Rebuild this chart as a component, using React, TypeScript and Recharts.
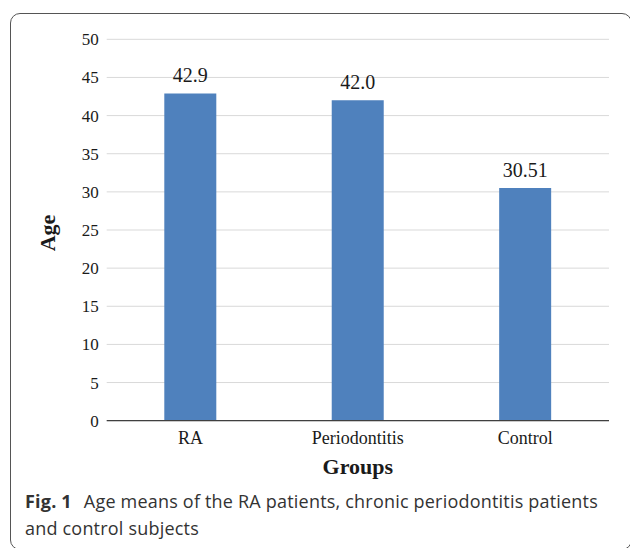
import React from 'react';
import { BarChart, Bar, XAxis, YAxis, CartesianGrid, LabelList, Label } from 'recharts';

const groups = ['RA', 'Periodontitis', 'Control'];
const ageMeans = [42.9, 42.0, 30.51];
const valueLabels = ['42.9', '42.0', '30.51'];
const yTicks = [0, 5, 10, 15, 20, 25, 30, 35, 40, 45, 50];

const data = groups.map((g, i) => ({ group: g, age: ageMeans[i], label: valueLabels[i] }));

const serif = '"Liberation Serif", "Times New Roman", serif';

export default function App() {
  return (
    <div style={{ position: 'absolute', left: 0, top: 0, width: 630, height: 548, background: '#fff', overflow: 'hidden' }}>
      <div
        style={{
          position: 'absolute',
          left: 9.5,
          top: 12.5,
          width: 622,
          height: 537,
          boxSizing: 'border-box',
          border: '1.5px solid #555',
          borderRadius: 10,
        }}
      />
      <div style={{ position: 'absolute', left: 0, top: 0 }}>
        <BarChart
          width={630}
          height={548}
          data={data}
          margin={{ top: 39.3, right: 21, bottom: 51.3, left: 0 }}
          barCategoryGap="34.4%"
        >
          <CartesianGrid vertical={false} stroke="#d9d9d9" strokeWidth={1} />
          <XAxis
            dataKey="group"
            height={76}
            tickLine={false}
            tickSize={0}
            tickMargin={11}
            axisLine={{ stroke: '#404040', strokeWidth: 1.2 }}
            tick={{ fontFamily: serif, fontSize: 18, fill: '#1a1a1a' }}
          >
            <Label value="Groups" position="center" dy={7} style={{ fontFamily: serif, fontSize: 22, fontWeight: 'bold', fill: '#1a1a1a' }} />
          </XAxis>
          <YAxis
            width={106.7}
            domain={[0, 50]}
            ticks={yTicks}
            interval={0}
            axisLine={false}
            tickLine={false}
            tickSize={0}
            tickMargin={8}
            tick={{ fontFamily: serif, fontSize: 17, fill: '#1a1a1a' }}
          >
            <Label value="Age" angle={-90} position="center" dx={-6} dy={3} style={{ fontFamily: serif, fontSize: 22, fontWeight: 'bold', fill: '#1a1a1a' }} />
          </YAxis>
          <Bar dataKey="age" fill="#4f81bd" isAnimationActive={false}>
            <LabelList dataKey="label" position="top" offset={11} style={{ fontFamily: serif, fontSize: 20, fill: '#1a1a1a' }} />
          </Bar>
        </BarChart>
      </div>
      <div
        style={{
          position: 'absolute',
          left: 25,
          top: 488,
          width: 605,
          whiteSpace: 'nowrap',
          fontFamily: '"Open Sans", "Noto Sans", sans-serif',
          fontSize: 18,
          lineHeight: '27px',
          letterSpacing: '0.2px',
          color: '#333',
        }}
      >
        <span style={{ fontWeight: 'bold', marginRight: 12 }}>Fig. 1</span>
        Age means of the RA patients, chronic periodontitis patients
        <br />
        and control subjects
      </div>
    </div>
  );
}
